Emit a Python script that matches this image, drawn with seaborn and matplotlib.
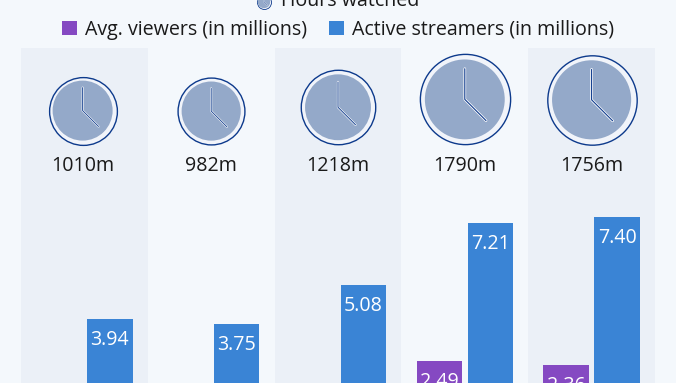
import matplotlib
matplotlib.use('Agg')
import matplotlib.pyplot as plt
from matplotlib.patches import Patch
import numpy as np
import pandas as pd
import seaborn as sns

# values (first three purple bars are cut off at the bottom)
periods = ['P1', 'P2', 'P3', 'P4', 'P5']
hours_watched = [1010, 982, 1218, 1790, 1756]
avg_viewers = [1.38, 1.35, 1.67, 2.49, 2.36]
active_streamers = [3.94, 3.75, 5.08, 7.21, 7.40]

PURPLE = '#8549c2'
BLUE = '#3a84d5'
BG = '#f4f8fc'
BAND = '#ebf0f7'
NAVY = '#0d3a8c'
CLOCK = '#94a9c9'
FS = 14.1

sns.set_theme(style='white')
plt.rcParams['font.family'] = ['Open Sans', 'DejaVu Sans']

df = pd.DataFrame({
    'period': periods * 2,
    'metric': ['viewers'] * 5 + ['streamers'] * 5,
    'value': avg_viewers + active_streamers,
})

W, H = 676, 383
PX_PER_UNIT = 29.3
PX_PER_CAT = 126.8
BASE_Y = 434
TOP_Y = 47.5
CROP_VALUE = (BASE_Y - H) / PX_PER_UNIT

fig = plt.figure(figsize=(W / 100, H / 100), dpi=100, facecolor=BG)
# axes run past the bottom of the figure, the picture crops the bars
ax = fig.add_axes([21 / W, (H - BASE_Y) / H, 634 / W, (BASE_Y - TOP_Y) / H])
ax.set_facecolor(BG)

sns.barplot(data=df, x='period', y='value', hue='metric',
            palette={'viewers': PURPLE, 'streamers': BLUE},
            width=0.803, gap=0.108, saturation=1, linewidth=0, legend=False, ax=ax)

for i in [0, 2, 4]:
    ax.axvspan(i - 0.5, i + 0.5, color=BAND, lw=0, zorder=0)

ax.set_xlim(-0.5, 4.5)
ax.set_ylim(0, (BASE_Y - TOP_Y) / PX_PER_UNIT)
ax.axis('off')
ax.patch.set_visible(False)

# labels only for bars that reach into the picture
for c, vals in zip(ax.containers, [avg_viewers, active_streamers]):
    labels = [f'{v:.2f}' if v > CROP_VALUE else '' for v in vals]
    ax.bar_label(c, labels=labels, padding=-22.5, color='white', fontsize=FS)


def px_to_pt(px):
    return px * 72 / 100


def draw_clock(x, y, diam, ring_lw=1.0, clip=True):
    # y is the clock centre in data units, diam in pixels
    s_out = px_to_pt(diam) ** 2
    s_in = px_to_pt(diam * 0.885) ** 2
    ax.scatter([x], [y], s=s_out, facecolor='#f1f4fa', edgecolor=NAVY, lw=ring_lw,
               zorder=3, clip_on=clip)
    ax.scatter([x], [y], s=s_in, facecolor=CLOCK, edgecolor='none', zorder=4, clip_on=clip)
    r = diam / 2
    hx = [x, x, x + 0.47 * r / PX_PER_CAT]
    hy = [y + 0.68 * r / PX_PER_UNIT, y, y - 0.47 * r / PX_PER_UNIT]
    lw = max(diam / 90 * 0.8, 0.3)
    ax.plot(hx, hy, color='white', lw=lw * 2.4, zorder=5, clip_on=clip, solid_capstyle='round')
    ax.plot(hx, hy, color=NAVY, lw=lw, zorder=6, clip_on=clip)


# clock area follows hours watched, all clocks sit on the same line
diam_px = np.sqrt(np.array(hours_watched) * 4.55)
clock_bottom = (BASE_Y - 144.5) / PX_PER_UNIT
label_y = (BASE_Y - 166) / PX_PER_UNIT
for i, (h, d) in enumerate(zip(hours_watched, diam_px)):
    cx = i - 0.014 if i == 0 else i  # first clock sits a little left of its band centre
    draw_clock(cx, clock_bottom + d / 2 / PX_PER_UNIT, d)
    ax.text(cx, label_y, f'{h}m', ha='center', va='center', fontsize=FS, color='#1a1a1a')

# legend rows
handles = [Patch(facecolor=PURPLE, lw=0, label='Avg. viewers (in millions)'),
           Patch(facecolor=BLUE, lw=0, label='Active streamers (in millions)')]
fig.legend(handles=handles, ncol=2, frameon=False, fontsize=FS, loc='center',
           bbox_to_anchor=(338 / W, 1 - 30 / H), handlelength=0.76, handleheight=0.76,
           handletextpad=0.41, columnspacing=1.12, labelcolor='#1a1a1a')
fig.text(281 / W, 1 - 1 / H, 'Hours watched', ha='left', va='center', fontsize=FS, color='#1a1a1a')
draw_clock((264 - 21) / PX_PER_CAT - 0.5, (BASE_Y - 2) / PX_PER_UNIT, 14, ring_lw=0.6, clip=False)

fig.savefig('out.png', dpi=100, facecolor=BG)
